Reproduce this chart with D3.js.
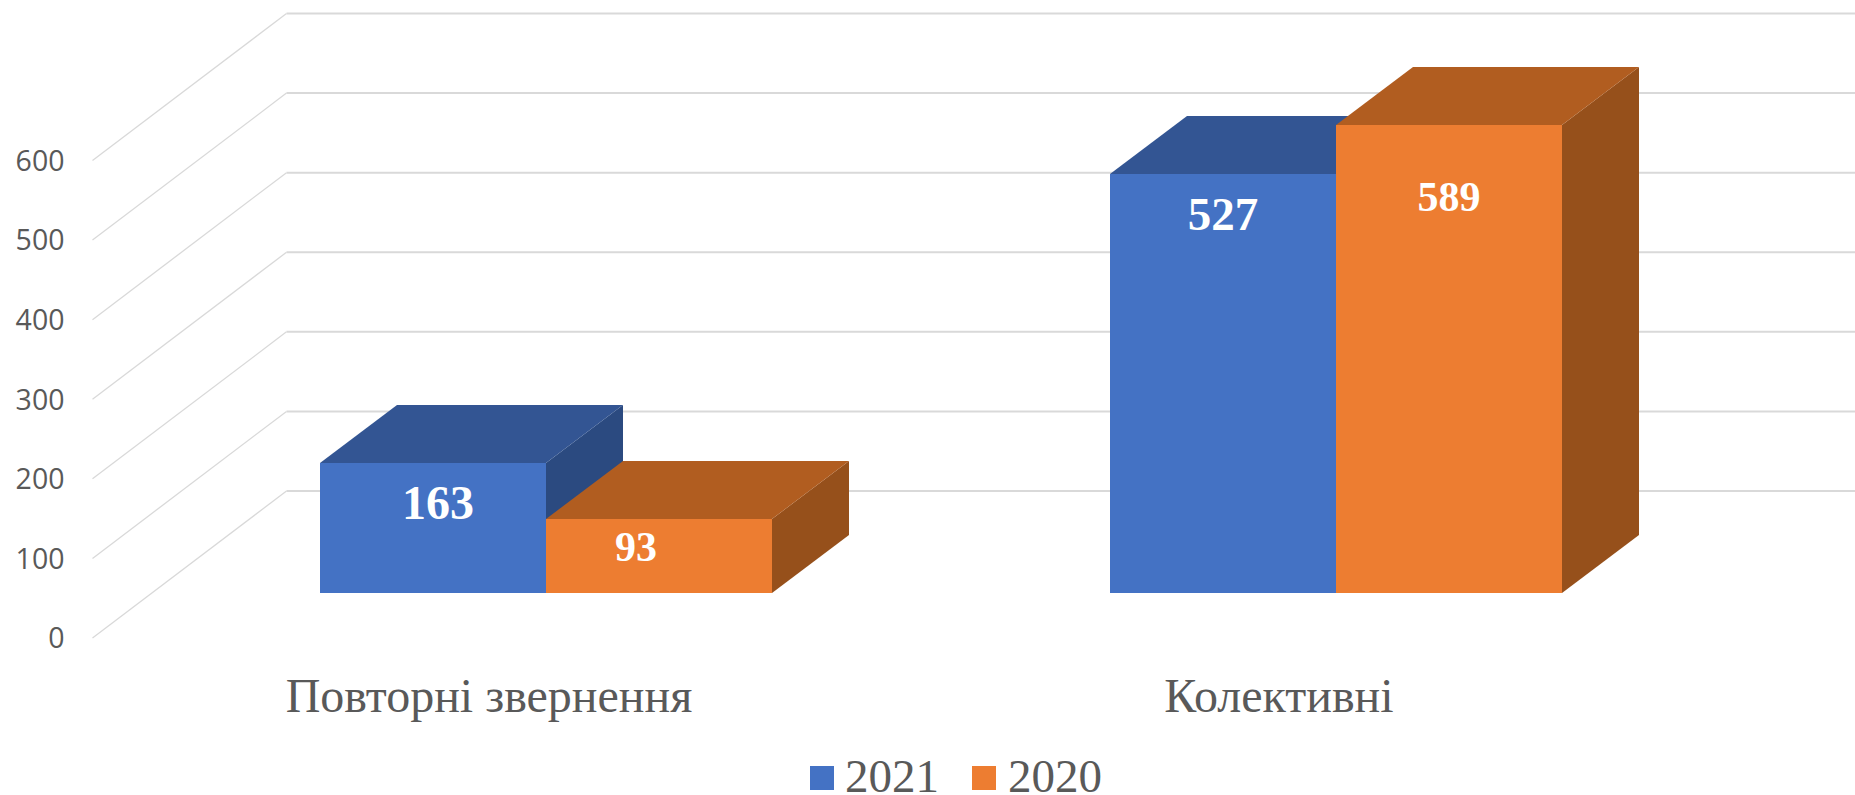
<!DOCTYPE html>
<html><head><meta charset="utf-8">
<script src="https://cdn.jsdelivr.net/npm/d3@7/dist/d3.min.js"></script>
<style>html,body{margin:0;padding:0;background:#fff;overflow:hidden}svg{display:block}</style>
</head><body><svg id="chart" width="1855" height="795"></svg>
<script>
const categories = ["Повторні звернення", "Колективні"];
const seriesNames = ["2021", "2020"];
const values2021 = [163, 527];
const values2020 = [93, 589];
const tickValues = [0, 100, 200, 300, 400, 500, 600];

const W = 1855, H = 795;
const svg = d3.select("#chart");

// Oblique projection: wall depth offset, bar depth offset and value scales
const wallBack = {dx: 194, dy: -147};
const barDepth = {dx: 77, dy: -58};
const yWallFront = d3.scaleLinear().domain([0, 600]).range([638, 160.5]);
const yBar = d3.scaleLinear().domain([0, 600]).rangeRound([593, 593 - 477]);
const groupLeft = d3.scaleOrdinal().domain(categories).range([320, 1110]);
const xSeries = d3.scaleBand().domain(seriesNames).range([0, 452]);

const gridColor = "#d9d9d9", textColor = "#595959";
const palette = {
  "2021": {front: "#4472c4", top: "#335593", side: "#2b4a80"},
  "2020": {front: "#ed7d31", top: "#b15d20", side: "#96501b"}
};

// Grid: thin receding lines on the floor side, heavier lines on the back wall
const grid = svg.append("g").attr("fill", "none").attr("stroke", gridColor);
grid.selectAll("path.wall").data(tickValues).join("path").attr("class", "wall")
  .attr("stroke-width", 1.3)
  .attr("d", v => {
    const y0 = yWallFront(v);
    return `M92.5,${y0}L${92.5 + wallBack.dx},${y0 + wallBack.dy}`;
  });
grid.selectAll("path.back").data(tickValues).join("path").attr("class", "back")
  .attr("stroke-width", 2)
  .attr("d", v => `M${92.5 + wallBack.dx},${yWallFront(v) + wallBack.dy}H${W}`);

// Axis labels
svg.append("g").selectAll("text").data(tickValues).join("text")
  .attr("x", 64.5).attr("y", v => yWallFront(v)).attr("dy", "0.36em")
  .attr("text-anchor", "end").attr("fill", textColor)
  .style("font", "28.5px 'Open Sans'")
  .text(d => d);

// Bars
const rows = [];
categories.forEach((c, i) => {
  rows.push({c, s: "2021", v: values2021[i]});
  rows.push({c, s: "2020", v: values2020[i]});
});
const poly = pts => "M" + pts.map(p => p.join(",")).join("L") + "Z";
const bars = svg.append("g").selectAll("g").data(rows).join("g");
bars.each(function(d) {
  const g = d3.select(this);
  const x0 = groupLeft(d.c) + xSeries(d.s), x1 = x0 + xSeries.bandwidth();
  const yT = yBar(d.v), yB = yBar(0);
  const {dx, dy} = barDepth;
  const col = palette[d.s];
  g.append("path").attr("fill", col.side)
    .attr("d", poly([[x1, yT], [x1 + dx, yT + dy], [x1 + dx, yB + dy], [x1, yB]]));
  g.append("path").attr("fill", col.top)
    .attr("d", poly([[x0, yT], [x0 + dx, yT + dy], [x1 + dx, yT + dy], [x1, yT]]));
  g.append("rect").attr("fill", col.front)
    .attr("x", x0).attr("y", yT).attr("width", x1 - x0).attr("height", yB - yT);
});

// Data labels: the source places and sizes each one individually
const labelSize = [48, 42, 47, 42];
const labelDx = [5, -23, 0, 0];
const labelDy = [56, 42, 56, 86];
svg.append("g").selectAll("text").data(rows).join("text")
  .attr("x", (d, i) => groupLeft(d.c) + xSeries(d.s) + xSeries.bandwidth() / 2 + labelDx[i])
  .attr("y", (d, i) => yBar(d.v) + labelDy[i])
  .attr("text-anchor", "middle").attr("fill", "#fff")
  .style("font-family", "'Liberation Serif'").style("font-weight", "bold")
  .style("font-size", (d, i) => labelSize[i] + "px")
  .text(d => d.v);

// Category labels
svg.append("g").selectAll("text").data(categories).join("text")
  .attr("x", (d, i) => [489, 1279][i]).attr("y", 712)
  .attr("text-anchor", "middle").attr("fill", textColor)
  .style("font", "48px 'Liberation Serif'")
  .text(d => d);

// Legend
const legend = svg.append("g").selectAll("g").data(seriesNames).join("g");
legend.append("rect").attr("x", (d, i) => [810, 972][i]).attr("y", 766)
  .attr("width", 24).attr("height", 24).attr("fill", d => palette[d].front);
legend.append("text").attr("x", (d, i) => [845, 1008][i]).attr("y", 792)
  .attr("fill", textColor).style("font", "47px 'Liberation Serif'").text(d => d);
</script></body></html>
